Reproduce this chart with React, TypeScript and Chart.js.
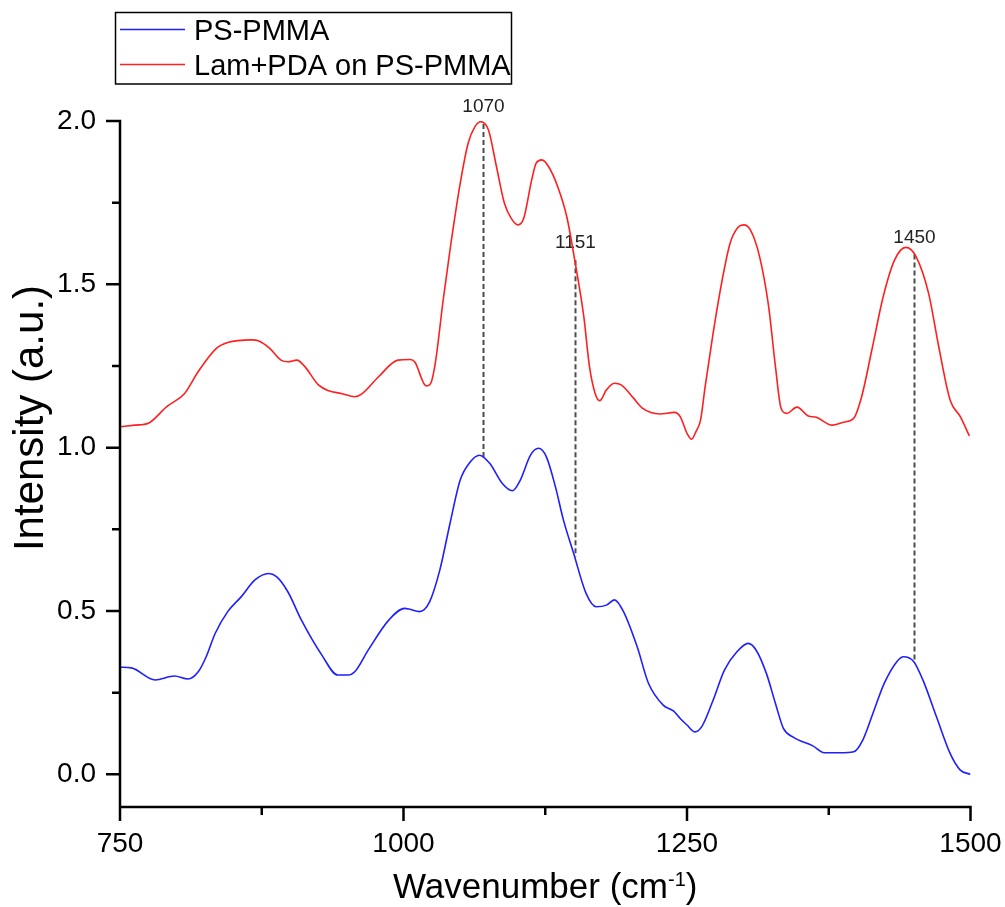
import { useEffect, useRef } from 'react';
import { Chart, registerables } from 'chart.js';

Chart.register(...registerables);

// PS-PMMA spectrum (wavenumber in cm-1, intensity in a.u.)
const psWavenumber = [
  750, 760, 781, 798, 810, 819, 826, 834, 845, 857, 869, 881, 888, 898, 910, 928, 942, 951, 957, 969,
  987, 1001, 1005, 1014, 1023, 1032, 1041, 1050, 1059, 1067, 1076, 1087, 1096, 1103, 1112, 1119, 1126,
  1134, 1141, 1150, 1161, 1170, 1179, 1186, 1194, 1206, 1216, 1229, 1238, 1244, 1250, 1257, 1263, 1273,
  1283, 1294, 1304, 1311, 1320, 1328, 1335, 1344, 1361, 1371, 1385, 1397, 1405, 1414, 1424, 1435, 1441,
  1450, 1458, 1470, 1482, 1491, 1500,
];
const psIntensity = [
  0.328, 0.326, 0.289, 0.301, 0.292, 0.314, 0.36, 0.432, 0.498, 0.544, 0.595, 0.615, 0.605, 0.559, 0.472,
  0.365, 0.304, 0.304, 0.314, 0.381, 0.472, 0.508, 0.506, 0.498, 0.528, 0.625, 0.768, 0.901, 0.957, 0.977,
  0.952, 0.891, 0.868, 0.901, 0.977, 0.998, 0.972, 0.88, 0.779, 0.677, 0.554, 0.513, 0.518, 0.534, 0.498,
  0.391, 0.279, 0.212, 0.194, 0.171, 0.151, 0.13, 0.146, 0.227, 0.319, 0.375, 0.401, 0.38, 0.309, 0.217,
  0.141, 0.113, 0.087, 0.066, 0.066, 0.069, 0.105, 0.187, 0.279, 0.345, 0.36, 0.345, 0.289, 0.176, 0.064,
  0.013, 0.0,
];

// Lam+PDA on PS-PMMA spectrum
const lamWavenumber = [
  750, 763, 775, 791, 807, 819, 835, 845, 866, 872, 882, 892, 898, 906, 913, 925, 934, 945, 957, 963,
  978, 995, 1006, 1010, 1020, 1024, 1028, 1035, 1041, 1050, 1057, 1063, 1068, 1075, 1082, 1089, 1095,
  1101, 1106, 1113, 1117, 1122, 1128, 1136, 1144, 1151, 1159, 1164, 1169, 1173, 1179, 1186, 1192, 1203,
  1211, 1226, 1239, 1244, 1250, 1254, 1258, 1262, 1266, 1273, 1281, 1288, 1295, 1300, 1306, 1314, 1322,
  1328, 1333, 1338, 1347, 1357, 1364, 1378, 1388, 1397, 1404, 1413, 1423, 1433, 1443, 1452, 1463, 1472,
  1482, 1491, 1499,
];
const lamIntensity = [
  1.064, 1.069, 1.075, 1.125, 1.166, 1.233, 1.304, 1.322, 1.33, 1.327, 1.304, 1.268, 1.263, 1.268, 1.248,
  1.192, 1.174, 1.166, 1.156, 1.164, 1.217, 1.268, 1.27, 1.262, 1.189, 1.197, 1.258, 1.452, 1.605, 1.809,
  1.932, 1.983, 1.998, 1.972, 1.86, 1.748, 1.702, 1.682, 1.702, 1.819, 1.871, 1.881, 1.86, 1.799, 1.707,
  1.574, 1.401, 1.248, 1.166, 1.144, 1.177, 1.197, 1.192, 1.151, 1.12, 1.103, 1.108, 1.095, 1.044, 1.026,
  1.05, 1.085, 1.187, 1.35, 1.513, 1.626, 1.675, 1.682, 1.666, 1.585, 1.432, 1.248, 1.12, 1.105, 1.124,
  1.097, 1.093, 1.069, 1.078, 1.09, 1.156, 1.299, 1.462, 1.574, 1.613, 1.585, 1.473, 1.309, 1.146, 1.095,
  1.036,
];

const seriesNames = ['PS-PMMA', 'Lam+PDA on PS-PMMA'];
const seriesColors = ['#1f1fff', '#ff1f1f'];

const xTicks = [750, 1000, 1250, 1500];
const xMinorTicks = [875, 1125, 1375];
const yTicks = [0, 0.5, 1.0, 1.5, 2.0];
const yMinorTicks = [0.25, 0.75, 1.25, 1.75];

// marked band positions (cm-1)
const peakPositions = [1070, 1151, 1450];

const FONT = '"Liberation Sans", Arial, Helvetica, sans-serif';

function valueAt(xs: number[], ys: number[], x: number): number {
  for (let i = 0; i < xs.length - 1; i++) {
    if (x >= xs[i] && x <= xs[i + 1]) {
      const t = (x - xs[i]) / (xs[i + 1] - xs[i]);
      return ys[i] + t * (ys[i + 1] - ys[i]);
    }
  }
  return ys[ys.length - 1];
}

const peakMarkers = {
  id: 'peakMarkers',
  beforeDatasetsDraw(chart: any) {
    const { ctx, scales } = chart;
    const x = scales.x;
    const y = scales.y;
    ctx.save();
    ctx.strokeStyle = 'rgba(55,55,55,0.9)';
    ctx.lineWidth = 2;
    ctx.setLineDash([5, 3]);
    ctx.font = `19px ${FONT}`;
    ctx.fillStyle = '#222';
    ctx.textAlign = 'center';
    ctx.textBaseline = 'alphabetic';
    peakPositions.forEach((p) => {
      const px = Math.round(x.getPixelForValue(p)) + 0.5;
      const yTop = y.getPixelForValue(valueAt(lamWavenumber, lamIntensity, p));
      const yBot = y.getPixelForValue(valueAt(psWavenumber, psIntensity, p));
      ctx.beginPath();
      ctx.moveTo(px, yTop);
      ctx.lineTo(px, yBot);
      ctx.stroke();
      ctx.fillText(String(p), px, yTop - 12);
    });
    ctx.restore();
  },
};

const frame = {
  id: 'frame',
  afterDraw(chart: any) {
    const { ctx, chartArea, scales } = chart;
    const x = scales.x;
    const y = scales.y;
    const { left, right, top, bottom } = chartArea;
    const lw = 2.5;
    ctx.save();
    ctx.strokeStyle = '#000';
    ctx.lineWidth = lw;
    ctx.lineCap = 'butt';
    ctx.beginPath();
    // axis lines
    ctx.moveTo(left, top - lw / 2);
    ctx.lineTo(left, bottom + lw / 2);
    ctx.moveTo(left - lw / 2, bottom);
    ctx.lineTo(right + lw / 2, bottom);
    // major and minor ticks, pointing outward
    xTicks.forEach((v) => {
      const px = x.getPixelForValue(v);
      ctx.moveTo(px, bottom);
      ctx.lineTo(px, bottom + 14);
    });
    xMinorTicks.forEach((v) => {
      const px = x.getPixelForValue(v);
      ctx.moveTo(px, bottom);
      ctx.lineTo(px, bottom + 8);
    });
    yTicks.forEach((v) => {
      const py = y.getPixelForValue(v);
      ctx.moveTo(left, py);
      ctx.lineTo(left - 14, py);
    });
    yMinorTicks.forEach((v) => {
      const py = y.getPixelForValue(v);
      ctx.moveTo(left, py);
      ctx.lineTo(left - 8, py);
    });
    ctx.stroke();

    // axis titles
    ctx.fillStyle = '#000';
    ctx.font = `35px ${FONT}`;
    ctx.textBaseline = 'alphabetic';
    const main = 'Wavenumber (cm';
    const sup = '-1';
    const close = ')';
    const wMain = ctx.measureText(main).width;
    const wClose = ctx.measureText(close).width;
    ctx.font = `20px ${FONT}`;
    const wSup = ctx.measureText(sup).width;
    const total = wMain + wSup + wClose;
    const cx = (left + right) / 2;
    let tx = cx - total / 2;
    const base = 898;
    ctx.textAlign = 'left';
    ctx.font = `35px ${FONT}`;
    ctx.fillText(main, tx, base);
    tx += wMain;
    ctx.font = `20px ${FONT}`;
    ctx.fillText(sup, tx, base - 12);
    tx += wSup;
    ctx.font = `35px ${FONT}`;
    ctx.fillText(close, tx, base);

    ctx.save();
    ctx.translate(31, 418);
    ctx.rotate(-Math.PI / 2);
    ctx.textAlign = 'center';
    ctx.textBaseline = 'middle';
    ctx.font = `42px ${FONT}`;
    ctx.fillText('Intensity (a.u.)', 0, 0);
    ctx.restore();

    // legend box
    ctx.lineWidth = 1.5;
    ctx.strokeStyle = '#000';
    ctx.strokeRect(115.5, 12.5, 396, 71.5);
    const rows = [29.5, 64.5];
    ctx.font = `29px ${FONT}`;
    ctx.textAlign = 'left';
    ctx.textBaseline = 'alphabetic';
    seriesNames.forEach((name, i) => {
      ctx.strokeStyle = seriesColors[i];
      ctx.lineWidth = 1.5;
      ctx.beginPath();
      ctx.moveTo(120, rows[i]);
      ctx.lineTo(185, rows[i]);
      ctx.stroke();
      ctx.fillStyle = '#000';
      ctx.fillText(name, 194, rows[i] + 10);
    });
    ctx.restore();
  },
};

export default function App() {
  const canvasRef = useRef<HTMLCanvasElement | null>(null);

  useEffect(() => {
    const canvas = canvasRef.current;
    if (!canvas) return;
    const chart = new Chart(canvas, {
      type: 'line',
      data: {
        datasets: [
          {
            label: seriesNames[0],
            data: psWavenumber.map((w, i) => ({ x: w, y: psIntensity[i] })),
            borderColor: seriesColors[0],
            borderWidth: 1.6,
            pointRadius: 0,
            fill: false,
            cubicInterpolationMode: 'monotone',
          },
          {
            label: seriesNames[1],
            data: lamWavenumber.map((w, i) => ({ x: w, y: lamIntensity[i] })),
            borderColor: seriesColors[1],
            borderWidth: 1.6,
            pointRadius: 0,
            fill: false,
            cubicInterpolationMode: 'monotone',
          },
        ],
      },
      options: {
        animation: false,
        responsive: false,
        events: [],
        layout: { padding: { left: 0, top: 121, right: 34.5, bottom: 0 } },
        plugins: {
          legend: { display: false },
          tooltip: { enabled: false },
          title: { display: false },
        },
        scales: {
          x: {
            type: 'linear',
            min: 750,
            max: 1500,
            grid: { display: false, drawTicks: false },
            border: { display: false },
            afterBuildTicks: (scale: any) => {
              scale.ticks = xTicks.map((v) => ({ value: v }));
            },
            afterFit: (scale: any) => {
              scale.height = 100;
              scale.paddingLeft = 0;
              scale.paddingRight = 0;
            },
            ticks: {
              padding: 20,
              color: '#000',
              font: { family: FONT, size: 28 },
              maxRotation: 0,
              callback: (v: any) => String(v),
            },
          },
          y: {
            type: 'linear',
            min: -0.1,
            max: 2.0,
            grid: { display: false, drawTicks: false },
            border: { display: false },
            afterBuildTicks: (scale: any) => {
              scale.ticks = yTicks.map((v) => ({ value: v }));
            },
            afterFit: (scale: any) => {
              scale.width = 120;
              scale.paddingTop = 0;
              scale.paddingBottom = 0;
            },
            ticks: {
              padding: 24,
              color: '#000',
              font: { family: FONT, size: 28 },
              callback: (v: any) => Number(v).toFixed(1),
            },
          },
        },
      },
      plugins: [peakMarkers, frame],
    });
    return () => chart.destroy();
  }, []);

  return (
    <div style={{ position: 'absolute', left: 0, top: 0, width: 1005, height: 907, background: '#fff' }}>
      <canvas ref={canvasRef} width={1005} height={907} style={{ display: 'block' }} />
    </div>
  );
}
